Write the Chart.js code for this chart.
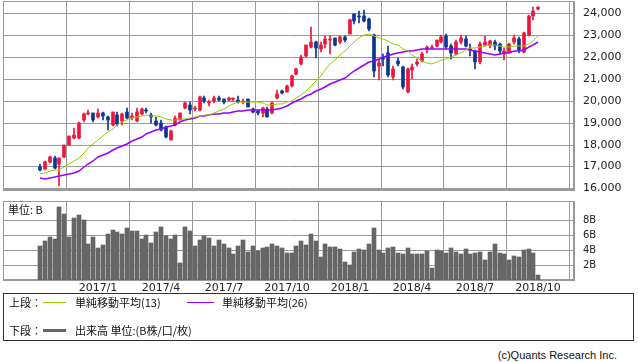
<!DOCTYPE html>
<html>
<head>
<meta charset="utf-8">
<script src="https://cdn.jsdelivr.net/npm/chart.js@4.4.0/dist/chart.umd.min.js"></script>
<style>
  body { margin: 0; background: #fff; width: 638px; height: 362px; overflow: hidden; position: relative; font-family: "DejaVu Sans", sans-serif; color: #222; }
  canvas { position: absolute; left: 0; }
  #price { top: 0; }
  #volume { top: 195px; }
  .txt { position: absolute; font: 11px "Noto Sans CJK JP", sans-serif; line-height: 13px; white-space: nowrap; color: #111; }
  .ln { position: absolute; height: 0; }
  #legendBox { position: absolute; left: 3px; top: 293px; width: 629px; height: 46px; border: 1px solid #333; }
</style>
</head>
<body>
<canvas id="price" width="638" height="191"></canvas>
<canvas id="volume" width="638" height="100"></canvas>
<div class="txt" style="left:8px;top:203px;">単位: B</div>

<div id="legendBox"></div>
<div class="txt" style="left:9px;top:296px;">上段：</div>
<div class="ln" style="left:43px;top:302px;width:23px;border-top:1px solid #99cc00;"></div>
<div class="txt" style="left:75px;top:296px;">単純移動平均(13)</div>
<div class="ln" style="left:187px;top:302px;width:27px;border-top:1px solid #9900ff;"></div>
<div class="txt" style="left:222px;top:296px;">単純移動平均(26)</div>
<div class="txt" style="left:9px;top:324px;">下段：</div>
<div class="ln" style="left:43px;top:329px;width:23px;border-top:3px solid #666;"></div>
<div class="txt" style="left:75px;top:324px;">出来高 単位:(B株/口/枚)</div>
<div class="txt" style="right:21px;top:349px;font-family:'Liberation Sans',sans-serif;">(c)Quants Research Inc.</div>

<script>
// weekly bars (week ending date)
const weeks = [
  "2016-10-14","2016-10-21","2016-10-28","2016-11-04","2016-11-11","2016-11-18","2016-11-25","2016-12-02","2016-12-09","2016-12-16","2016-12-23","2016-12-30",
  "2017-01-06","2017-01-13","2017-01-20","2017-01-27","2017-02-03","2017-02-10","2017-02-17","2017-02-24","2017-03-03","2017-03-10","2017-03-17","2017-03-24","2017-03-31",
  "2017-04-07","2017-04-14","2017-04-21","2017-04-28","2017-05-05","2017-05-12","2017-05-19","2017-05-26","2017-06-02","2017-06-09","2017-06-16","2017-06-23","2017-06-30",
  "2017-07-07","2017-07-14","2017-07-21","2017-07-28","2017-08-04","2017-08-11","2017-08-18","2017-08-25","2017-09-01","2017-09-08","2017-09-15","2017-09-22","2017-09-29",
  "2017-10-06","2017-10-13","2017-10-20","2017-10-27","2017-11-03","2017-11-10","2017-11-17","2017-11-24","2017-12-01","2017-12-08","2017-12-15","2017-12-22","2017-12-29",
  "2018-01-05","2018-01-12","2018-01-19","2018-01-26","2018-02-02","2018-02-09","2018-02-16","2018-02-23","2018-03-02","2018-03-09","2018-03-16","2018-03-23","2018-03-30",
  "2018-04-06","2018-04-13","2018-04-20","2018-04-27","2018-05-04","2018-05-11","2018-05-18","2018-05-25","2018-06-01","2018-06-08","2018-06-15","2018-06-22","2018-06-29",
  "2018-07-06","2018-07-13","2018-07-20","2018-07-27","2018-08-03","2018-08-10","2018-08-17","2018-08-24","2018-08-31","2018-09-07","2018-09-14","2018-09-21","2018-09-28",
  "2018-10-05"
];

const opens = [
  16980,16880,17200,17400,17100,17450,17990,18300,18310,19140,19400,19420,
  19280,19420,19240,18900,19370,19095,19500,19200,19095,19400,19590,19370,19095,
  19000,18820,18220,18910,19140,19690,19820,19640,19560,20150,19880,19970,20150,
  20060,20020,20070,20030,19930,20060,19640,19520,19420,19640,19440,20150,20470,
  20400,20660,21220,21700,22050,22450,22700,22350,22600,22800,22860,22700,22930,
  23073,23950,23830,23880,23740,23000,21600,21950,22170,21100,21800,21545,20420,
  21430,21680,21810,22390,22420,22510,22700,22970,22510,22160,22700,22820,22390,
  22280,21770,22550,22550,22700,22600,22130,22250,22670,22820,22240,23000,23880,
  24180
];
const highs = [
  17100,17240,17480,17470,17400,18000,18400,18750,19050,19440,19590,19450,
  19615,19500,19300,19500,19480,19460,19670,19450,19670,19650,19650,19450,19250,
  19100,18850,18650,19290,19460,19960,19930,19750,20240,20230,20030,20230,20240,
  20090,20170,20150,20200,20080,20090,19660,19600,19730,19700,19930,20480,20500,
  20720,21180,21520,22100,22550,23382,22750,22680,22940,22950,22870,22950,22950,
  23730,23950,24084,24129,23800,23050,21900,22160,22500,21600,21970,21600,21520,
  21700,21930,22240,22520,22560,22800,23000,23050,22600,22800,23010,22950,22600,
  22320,22700,22950,22800,22800,22650,22400,22660,23010,22900,23150,23900,24290,
  24310
];
const lows = [
  16780,16820,17150,16880,16111,17380,17960,18250,18250,19050,19350,19050,
  19200,19100,18650,18850,18830,18900,19150,19100,19050,19340,19460,18990,18860,
  18600,18320,18220,18870,19100,19640,19390,19550,19540,19880,19740,19900,20000,
  19860,19990,20000,19900,19860,19710,19420,19360,19240,19240,19400,20100,20320,
  20380,20650,21200,21650,22000,22400,21970,22250,22420,22119,22500,22580,22700,
  23050,23520,23550,23600,23200,21078,20950,21600,21080,20940,21600,20550,20347,
  21000,21600,21780,22200,22380,22450,22650,22380,21930,22100,22580,22450,22050,
  21462,21700,22500,22400,22300,22150,21851,22200,22600,22200,22200,22950,23700,
  24150
];
const closes = [
  16856,17184,17446,16905,17374,17967,18381,18426,18996,19401,19427,19114,
  19454,19287,19137,19467,18918,19378,19235,19283,19469,19604,19521,19262,18909,
  18664,18335,18620,19196,19445,19883,19590,19686,20177,20013,19943,20132,20033,
  19929,20118,20099,19959,19952,19729,19470,19452,19691,19274,19909,20296,20356,
  20690,21155,21457,22008,22539,22681,22397,22550,22819,22811,22553,22902,22764,
  23714,23653,23808,23631,23274,21382,21720,21892,21181,21469,21676,20617,21454,
  21567,21778,22162,22467,22473,22758,22930,22450,22171,22694,22851,22516,22304,
  21788,22597,22697,22712,22525,22298,22270,22601,22865,22307,23094,23869,24120,
  24270
];
// weekly closes before the first bar, needed for the 13 / 26 week averages
const priorCloses = [
  17572,16666,16106,16412,16736,16834,16642,16601,15599,14952,15682,15106,16497,
  16627,16569,16254,16919,16545,16360,16925,16965,16519,16754,16450,16860
];
// volume, billions of shares
const volumes = [
  4.56,5.18,5.70,5.44,9.73,8.76,5.70,8.23,8.63,7.96,4.78,5.70,
  4.25,4.65,6.10,6.64,6.37,6.10,6.90,6.50,6.50,5.44,5.97,4.91,6.37,
  7.04,5.88,5.44,5.97,2.26,7.04,6.50,4.51,5.31,5.84,5.58,4.51,5.31,
  4.82,4.25,3.45,4.51,5.31,3.76,4.51,3.89,4.25,4.38,4.78,4.51,4.25,
  3.58,3.58,4.51,5.18,4.65,6.10,5.18,3.05,4.78,4.38,4.38,4.07,2.39,
  1.99,3.72,4.12,3.98,4.78,6.90,3.98,3.58,4.25,4.38,3.58,3.45,4.25,
  3.45,3.45,3.45,3.85,1.59,3.98,3.85,3.58,4.25,3.72,3.45,4.12,3.45,
  3.58,3.72,2.65,3.72,4.78,3.58,3.45,2.65,3.19,3.05,3.98,4.12,3.58,
  0.66
];

const tickWeeks = ["2017-01-06","2017-04-07","2017-07-07","2017-10-06","2018-01-05","2018-04-06","2018-07-06","2018-10-05"];
const tickLabels = ["2017/1","2017/4","2017/7","2017/10","2018/1","2018/4","2018/7","2018/10"];
const priceTicks = [16000,17000,18000,19000,20000,21000,22000,23000,24000];
const volumeTicks = [2,4,6,8];

const tickIdx = tickWeeks.map(w => weeks.indexOf(w));
const idx = weeks.map((w, i) => i);

// simple moving average of the weekly close
function sma(n) {
  const all = priorCloses.concat(closes);
  const off = priorCloses.length;
  return closes.map((c, i) => {
    let s = 0;
    for (let k = off + i - n + 1; k <= off + i; k++) s += all[k];
    return { x: i, y: s / n };
  });
}

const UP = "#f0143c", DOWN = "#0a3592", GRID = "#999";
const candleColors = closes.map((c, i) => (c >= opens[i] ? UP : DOWN));
const X_MIN = -7.65, X_MAX = 110.4;

const framePlugin = {
  id: "frame",
  beforeDatasetsDraw(chart) {
    const a = chart.chartArea, ctx = chart.ctx;
    ctx.save();
    ctx.strokeStyle = GRID;
    ctx.lineWidth = 1;
    ctx.strokeRect(Math.round(a.left) + 0.5, Math.round(a.top) + 0.5,
      Math.round(a.right - a.left) - 1, Math.round(a.bottom - a.top) - 1);
    ctx.restore();
  }
};

Chart.defaults.font.family = "'DejaVu Sans', sans-serif";
Chart.defaults.animation = false;

// no extra room for labels hanging over the plot edges
function noPad(s) {
  s.paddingTop = 0; s.paddingBottom = 0; s.paddingLeft = 0; s.paddingRight = 0;
}

const xBase = {
  type: "linear", min: X_MIN, max: X_MAX, offset: false, alignToPixels: true,
  grid: { color: GRID, drawTicks: false },
  border: { color: GRID },
  afterBuildTicks: s => { s.ticks = tickIdx.map(v => ({ value: v })); }
};

new Chart(document.getElementById("price"), {
  type: "bar",
  data: {
    datasets: [
      { type: "line", data: sma(13), borderColor: "#99cc00", borderWidth: 1, pointRadius: 0, order: 0 },
      { type: "line", data: sma(26), borderColor: "#9900ff", borderWidth: 1.5, pointRadius: 0, order: 0 },
      { data: idx.map(i => ({ x: i, y: [opens[i], closes[i]] })), backgroundColor: candleColors,
        barThickness: 3, minBarLength: 1, grouped: false, order: 1 },
      { data: idx.map(i => ({ x: i, y: [lows[i], highs[i]] })), backgroundColor: candleColors,
        barThickness: 1, grouped: false, order: 2 }
    ]
  },
  options: {
    responsive: false,
    events: [],
    layout: { padding: { left: 3, top: 1, right: 0, bottom: 1 } },
    plugins: { legend: { display: false }, tooltip: { enabled: false } },
    scales: {
      x: Object.assign({}, xBase, { ticks: { display: false }, afterFit: s => { s.height = 0; noPad(s); } }),
      y: {
        position: "right", min: 15922, max: 24562, alignToPixels: true,
        grid: { color: GRID, drawTicks: false },
        border: { color: GRID },
        afterBuildTicks: s => { s.ticks = priceTicks.map(v => ({ value: v })); },
        afterFit: s => { s.width = 64; noPad(s); },
        ticks: { padding: 9, color: "#222", font: { size: 11 }, callback: v => v.toLocaleString("en-US") }
      }
    }
  },
  plugins: [framePlugin]
});

new Chart(document.getElementById("volume"), {
  type: "bar",
  data: {
    datasets: [
      { data: idx.map(i => ({ x: i, y: volumes[i] })), backgroundColor: "#666", barThickness: 4, grouped: false }
    ]
  },
  options: {
    responsive: false,
    events: [],
    layout: { padding: { left: 3, top: 6, right: 0, bottom: 0 } },
    plugins: { legend: { display: false }, tooltip: { enabled: false } },
    scales: {
      x: Object.assign({}, xBase, {
        ticks: { padding: 2, color: "#222", font: { size: 11 }, autoSkip: false, maxRotation: 0,
          callback: (v, i) => tickLabels[i] },
        afterFit: s => { s.height = 15; noPad(s); }
      }),
      y: {
        position: "right", min: 0, max: 10.53, alignToPixels: true,
        grid: { color: GRID, drawTicks: false },
        border: { color: GRID },
        afterBuildTicks: s => { s.ticks = volumeTicks.map(v => ({ value: v })); },
        afterFit: s => { s.width = 64; noPad(s); },
        ticks: { padding: 9, color: "#222", font: { size: 10 }, callback: v => v + "B" }
      }
    }
  },
  plugins: [framePlugin]
});
</script>
</body>
</html>
